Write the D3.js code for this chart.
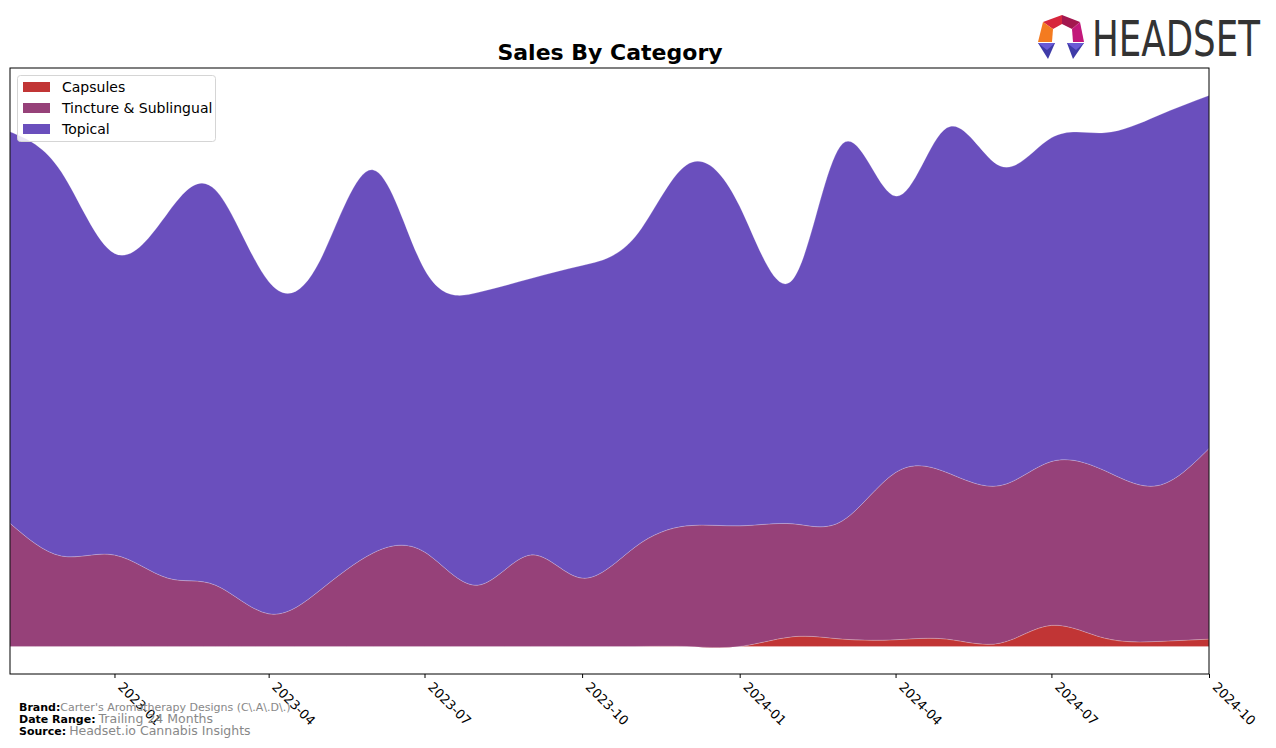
<!DOCTYPE html>
<html>
<head>
<meta charset="utf-8">
<script src="https://cdn.jsdelivr.net/npm/d3@7"></script>
<style>
  body { margin: 0; background: #fff; }
  svg { display: block; }
  text { font-family: "DejaVu Sans", sans-serif; }
</style>
</head>
<body>
<svg id="chart" width="1276" height="748"></svg>
<script>
// ---- data (monthly) ----
const months = ["2022-11","2022-12","2023-01","2023-02","2023-03","2023-04","2023-05","2023-06",
  "2023-07","2023-08","2023-09","2023-10","2023-11","2023-12","2024-01","2024-02","2024-03",
  "2024-04","2024-05","2024-06","2024-07","2024-08","2024-09","2024-10"];
const categories = ["Capsules", "Tincture & Sublingual", "Topical"];
const capsules = [0,0,0,0,0,0,0,0,0,0,0,0,0,0,0,9.7,7.3,6.7,7.3,3.3,21,8.3,5,7.3];
const tincture = [122.5,90,91,68,61,32.5,56,93,94,61,91,68,99,120,120,112.3,117.7,166.3,165.7,156.7,163,166.7,155,189.7];
const topical  = [389.5,382,300,363,393,330.5,328,381,281,291,275,311,308.5,359,318,243,375,275,343,318,322,336,368,351];
const tickLabels = ["2023-01","2023-04","2023-07","2023-10","2024-01","2024-04","2024-07","2024-10"];
const colors = ["#c13535", "#964179", "#6a4fbd"];

const parse = d3.timeParse("%Y-%m");
const rows = months.map((m, i) => ({
  date: parse(m),
  "Capsules": capsules[i],
  "Tincture & Sublingual": tincture[i],
  "Topical": topical[i]
}));

const svg = d3.select("#chart");
const L = 10, R = 1209, T = 68, B = 674;

const x = d3.scaleTime().domain([parse(months[0]), parse(months[months.length - 1])]).range([L, R]);
const stack = d3.stack().keys(categories);
const series = stack(rows);
const maxV = d3.max(series[series.length - 1], d => d[1]);
const y = d3.scaleLinear().domain([-0.05 * maxV, 1.05 * maxV]).range([B, T]);

svg.append("defs").append("clipPath").attr("id", "clip")
  .append("rect").attr("x", L).attr("y", T).attr("width", R - L).attr("height", B - T);

const area = d3.area()
  .x(d => x(d.data.date))
  .y0(d => y(d[0]))
  .y1(d => y(d[1]))
  .curve(d3.curveNatural);

const g = svg.append("g").attr("clip-path", "url(#clip)");
g.selectAll("path.layer").data(series).join("path")
  .attr("class", "layer")
  .attr("d", area)
  .attr("fill", (d, i) => colors[i])
  .attr("stroke", "rgba(255,255,255,0.25)")
  .attr("stroke-width", 0.8);

// frame
svg.append("rect").attr("x", L).attr("y", T).attr("width", R - L).attr("height", B - T)
  .attr("fill", "none").attr("stroke", "#000").attr("stroke-width", 1);

// x axis
const tickDates = tickLabels.map(parse);
const xAxis = d3.axisBottom(x).tickValues(tickDates).tickSize(4).tickFormat(d3.timeFormat("%Y-%m"));
const ax = svg.append("g").attr("transform", `translate(0,${B})`).call(xAxis);
ax.select(".domain").remove();
ax.selectAll("line").attr("stroke", "#000");
ax.selectAll("text")
  .attr("font-family", "DejaVu Sans")
  .attr("font-size", 13)
  .attr("fill", "#000")
  .attr("text-anchor", "start")
  .attr("dy", null)
  .attr("y", 0)
  .attr("transform", "translate(9,7) rotate(45)")
  .attr("dominant-baseline", "hanging");

// title
svg.append("text").attr("x", 610).attr("y", 60).attr("text-anchor", "middle")
  .attr("font-size", 22).attr("font-weight", "bold").attr("fill", "#000")
  .text("Sales By Category");

// legend
const lg = svg.append("g");
lg.append("rect").attr("x", 17.5).attr("y", 75.5).attr("width", 198).attr("height", 66)
  .attr("rx", 3).attr("fill", "#fff").attr("fill-opacity", 0.85).attr("stroke", "#d5d5d5");
categories.forEach((c, i) => {
  const yy = 87 + i * 21;
  lg.append("rect").attr("x", 23).attr("y", yy - 5).attr("width", 27).attr("height", 10).attr("fill", colors[i]);
  lg.append("text").attr("x", 62).attr("y", yy + 5).attr("font-size", 14).attr("fill", "#000").text(c);
});

// footer
const foot = [
  ["Brand:", "Carter's Aromatherapy Designs (C\\.A\\.D\\.)", 11],
  ["Date Range:", "Trailing 24 Months", 13],
  ["Source:", "Headset.io Cannabis Insights", 13]
];
foot.forEach((f, i) => {
  const t = svg.append("text").attr("x", 19).attr("y", 711 + i * 12).attr("font-size", 11);
  t.append("tspan").attr("font-weight", "bold").attr("fill", "#000").text(f[0]);
  t.append("tspan").attr("fill", "#888").attr("font-size", f[2] === 11 ? 11 : 12.5).attr("dx", f[2] === 11 ? 0 : 3).text(f[1]);
});

// logo
const logo = svg.append("g");
const polys = [
  {p: [[1043,22],[1062,15],[1062,24],[1053,29]], c: "#d7263d"},
  {p: [[1062,15],[1080,22],[1072,29],[1062,24]], c: "#a3174f"},
  {p: [[1043,22],[1053,29],[1052,42],[1038,42]], c: "#f47b20"},
  {p: [[1080,22],[1084,42],[1073,42],[1072,29]], c: "#c2187a"},
  {p: [[1038,43],[1055,43],[1048,59]], c: "#3f3ba8"},
  {p: [[1067,43],[1084,43],[1073,59]], c: "#3f3ba8"},
  {p: [[1038,43],[1055,43],[1047,50]], c: "#6a5ad6"},
  {p: [[1067,43],[1084,43],[1076,50]], c: "#6a5ad6"}
];
polys.forEach(o => logo.append("polygon").attr("points", o.p.map(q => q.join(",")).join(" ")).attr("fill", o.c));
logo.append("text").attr("x", 1092).attr("y", 56)
  .attr("font-family", "'Liberation Sans Narrow', 'DejaVu Sans Condensed', sans-serif")
  .attr("font-size", 50).attr("fill", "#333")
  .attr("textLength", 168).attr("lengthAdjust", "spacingAndGlyphs")
  .text("HEADSET");
</script>
</body>
</html>
